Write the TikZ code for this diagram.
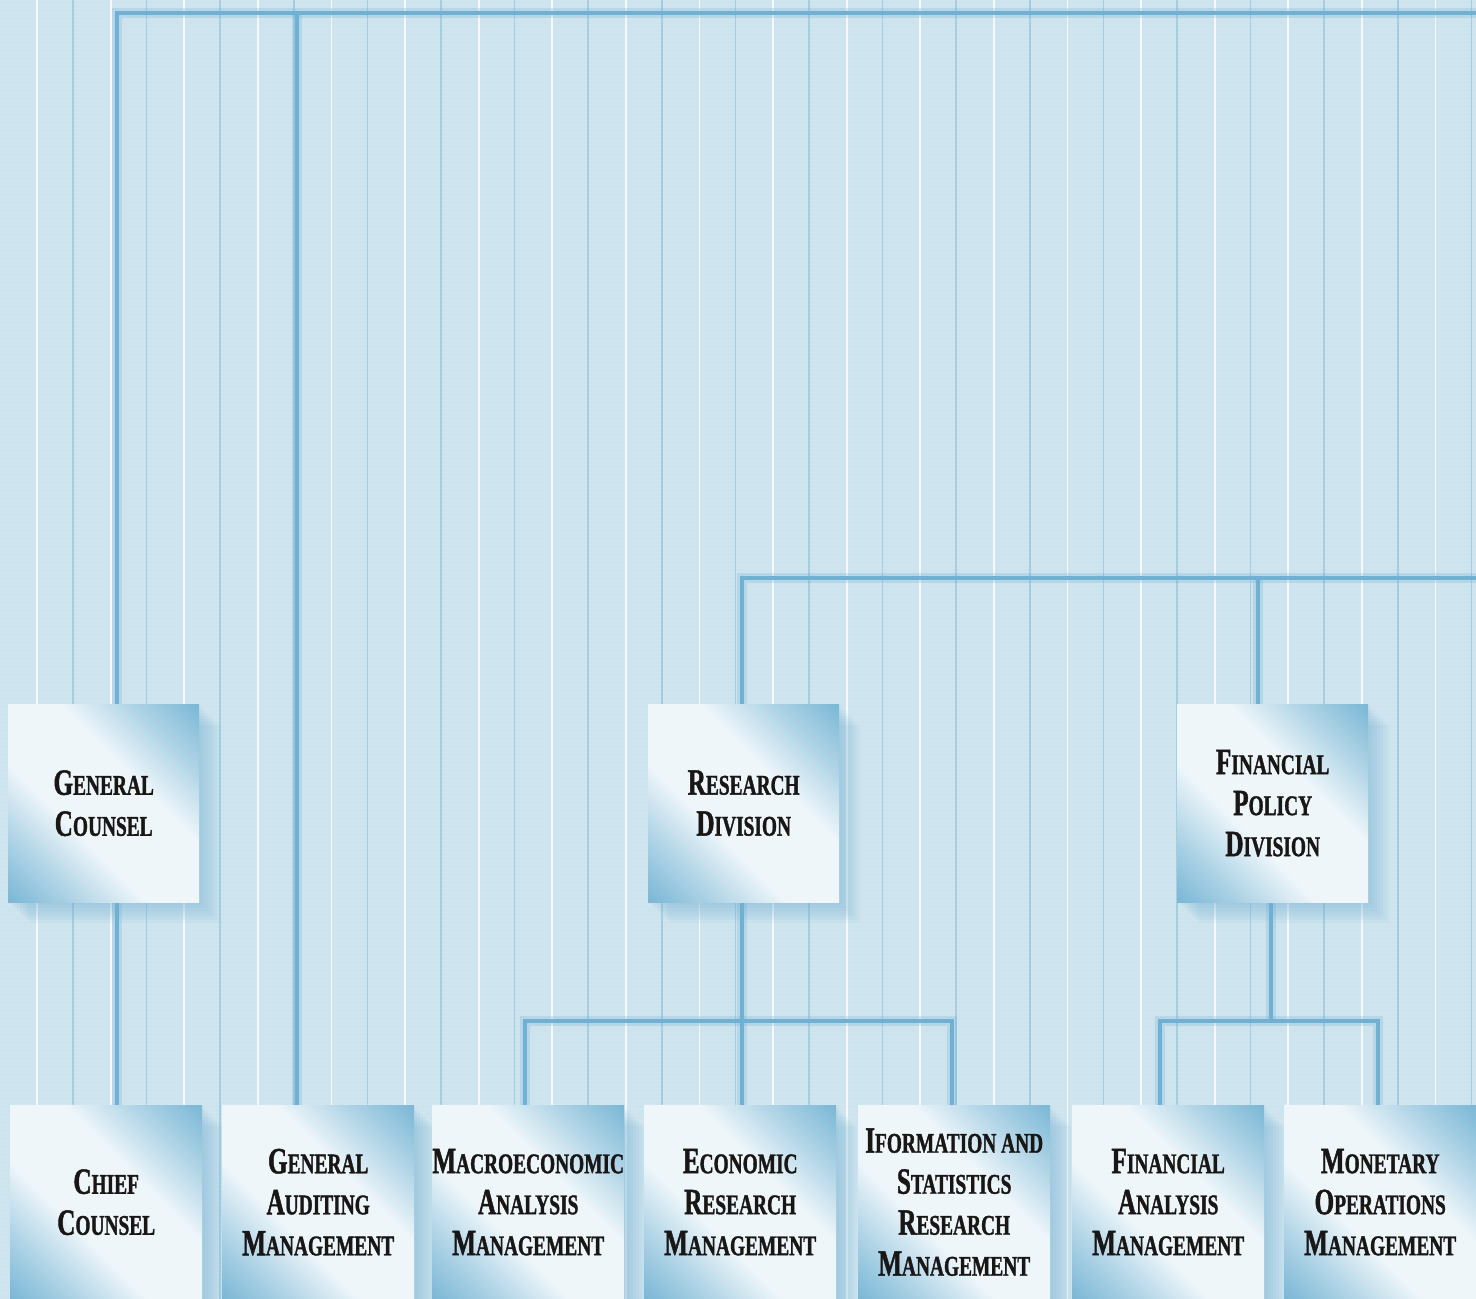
\documentclass[tikz,border=0pt]{standalone}
\usepackage{fontspec}
\newfontfamily\tf[FakeStretch=0.68,FakeBold=1.2]{Liberation Serif}
\usetikzlibrary{calc}
\definecolor{bg}{RGB}{205,227,238}
\definecolor{stripeD}{RGB}{163,204,225}
\definecolor{conn}{RGB}{112,176,210}
\definecolor{bblue}{RGB}{124,184,214}
\definecolor{bwhite}{RGB}{238,246,250}
\definecolor{ink}{RGB}{25,22,22}
\pgfdeclarehorizontalshading{boxshade}{100bp}{color(0bp)=(bblue); color(15bp)=(bblue); color(27bp)=(bblue!55!bwhite); color(40bp)=(bwhite); color(60bp)=(bwhite); color(73bp)=(bblue!55!bwhite); color(85bp)=(bblue); color(100bp)=(bblue)}
\newcommand\SCx[2]{{\fontsize{37}{41}\selectfont#1}{\fontsize{28.5}{41}\selectfont#2}}
\tikzset{
  orgbox/.style={rectangle, inner sep=0pt, anchor=north west, shading=boxshade, shading angle=45,
    align=center, text=ink, font=\tf\bfseries\fontsize{37}{41}\selectfont},
  topbox/.style={orgbox, minimum width=191pt, minimum height=198pt},
  botbox/.style={orgbox, minimum width=192pt, minimum height=194pt},
  wire/.style={draw=conn, line width=4pt, line cap=rect},
  wireshadow/.style={draw=conn, line width=10pt, opacity=0.25, shift={(11,11)}},
}
\newcommand\boxshadow[1]{%
  \foreach \i in {3,6,...,21}{\fill[conn, opacity=0.08] ($(#1.north west)+(\i,\i)$) rectangle ($(#1.south east)+(\i,\i)$);}}
\begin{document}
\begin{tikzpicture}[x=1pt,y=-1pt]
\fill[bg] (0,0) rectangle (1476,1299);
\useasboundingbox (0,0) rectangle (1476,1299);
% stripes
\foreach \k in {0,...,20}{
  \draw[white, line width=1.8pt, opacity=0.8] ({37+73.6*\k},0) -- ({37+73.6*\k},1299);
  \draw[stripeD, line width=1.6pt] ({73+73.6*\k},0) -- ({73+73.6*\k},1299);
}
% faint horizontal texture
\foreach \j in {0,4,...,1299}{\draw[white, opacity=0.08, line width=0.8pt] (0,\j) -- (1476,\j);}

% bus coordinates
\coordinate (topR) at (1476,13);
\coordinate (busA) at (117,13);
\coordinate (busB) at (297,13);
\coordinate (midR) at (1476,578);
\coordinate (busC) at (742,578);
\coordinate (busD) at (1258,578);
\coordinate (lowL) at (525,1021);
\coordinate (lowR) at (952,1021);
\coordinate (finL) at (1160,1021);
\coordinate (finR) at (1378,1021);
\coordinate (finM) at (1271,1021);

% invisible placeholders giving the box anchors
\path
 node[topbox, fill opacity=0, text opacity=0] (gc)  at (8,704) {}
 node[topbox, fill opacity=0, text opacity=0] (rd)  at (648,704) {}
 node[topbox, fill opacity=0, text opacity=0] (fpd) at (1177,704) {}
 node[botbox, fill opacity=0, text opacity=0] (cc)  at (10,1105) {}
 node[botbox, fill opacity=0, text opacity=0] (gam) at (222,1105) {}
 node[botbox, fill opacity=0, text opacity=0] (mam) at (432,1105) {}
 node[botbox, fill opacity=0, text opacity=0] (erm) at (644,1105) {}
 node[botbox, fill opacity=0, text opacity=0] (isr) at (858,1105) {}
 node[botbox, fill opacity=0, text opacity=0] (fam) at (1072,1105) {}
 node[botbox, fill opacity=0, text opacity=0] (mom) at (1284,1105) {};

% connectors: shadows then lines
\foreach \s in {wireshadow,wire}{
  \draw[\s] (busA |- gc.north) -- (busA) -- (topR);
  \draw[\s] (busB) -- (busB |- gam.north);
  \draw[\s] (busA |- gc.south) -- (busA |- cc.north);
  \draw[\s] (busC |- rd.north) -- (busC) -- (midR);
  \draw[\s] (busD) -- (busD |- fpd.north);
  \draw[\s] (busC |- rd.south) -- (busC |- erm.north);
  \draw[\s] (lowL |- mam.north) -- (lowL) -- (lowR) -- (lowR |- isr.north);
  \draw[\s] (finM |- fpd.south) -- (finM);
  \draw[\s] (finL |- fam.north) -- (finL) -- (finR) -- (finR |- mom.north);
}

% box shadows
\foreach \b in {gc,rd,fpd,cc,gam,mam,erm,isr,fam,mom}{\boxshadow{\b}}

% boxes
\node[topbox] (gcT) at (8,704) {\SCx{G}{ENERAL}\\\SCx{C}{OUNSEL}};
\node[topbox] (rdT) at (648,704) {\SCx{R}{ESEARCH}\\\SCx{D}{IVISION}};
\node[topbox] (fpdT) at (1177,704) {\SCx{F}{INANCIAL}\\\SCx{P}{OLICY}\\\SCx{D}{IVISION}};
\node[botbox] (ccT) at (10,1105) {\SCx{C}{HIEF}\\\SCx{C}{OUNSEL}};
\node[botbox] (gamT) at (222,1105) {\SCx{G}{ENERAL}\\\SCx{A}{UDITING}\\\SCx{M}{ANAGEMENT}};
\node[botbox] (mamT) at (432,1105) {\SCx{M}{ACROECONOMIC}\\\SCx{A}{NALYSIS}\\\SCx{M}{ANAGEMENT}};
\node[botbox] (ermT) at (644,1105) {\SCx{E}{CONOMIC}\\\SCx{R}{ESEARCH}\\\SCx{M}{ANAGEMENT}};
\node[botbox] (isrT) at (858,1105) {\SCx{I}{FORMATION AND}\\\SCx{S}{TATISTICS}\\\SCx{R}{ESEARCH}\\\SCx{M}{ANAGEMENT}};
\node[botbox] (famT) at (1072,1105) {\SCx{F}{INANCIAL}\\\SCx{A}{NALYSIS}\\\SCx{M}{ANAGEMENT}};
\node[botbox] (momT) at (1284,1105) {\SCx{M}{ONETARY}\\\SCx{O}{PERATIONS}\\\SCx{M}{ANAGEMENT}};
\end{tikzpicture}
\end{document}
